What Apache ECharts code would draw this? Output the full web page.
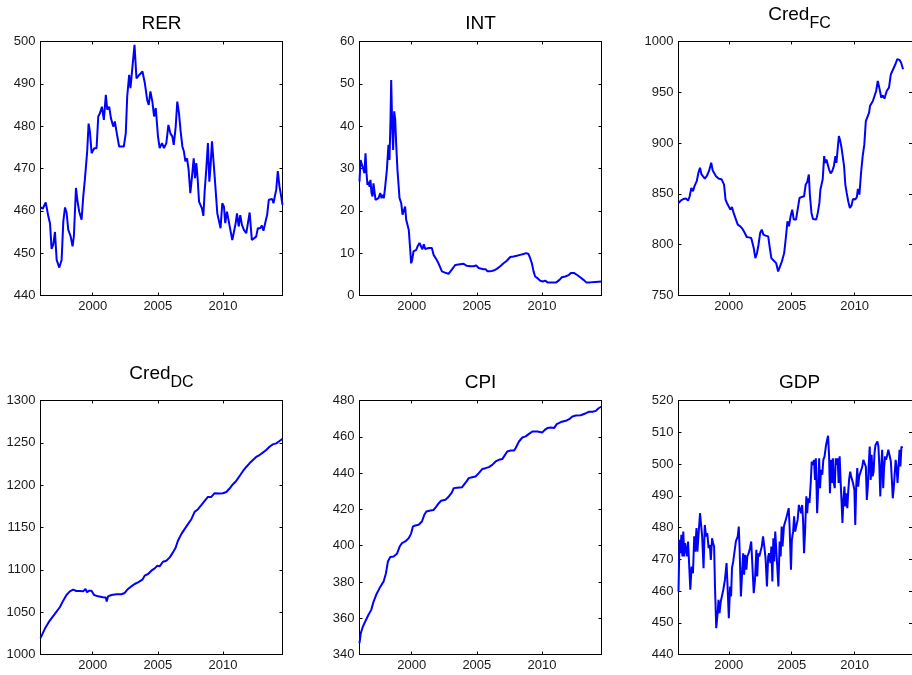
<!DOCTYPE html>
<html>
<head>
<meta charset="utf-8">
<title>RER, INT, Cred, CPI, GDP</title>
<script src="https://cdn.jsdelivr.net/npm/echarts@6/dist/echarts.min.js"></script>
<style>
  html, body { margin: 0; padding: 0; background: #ffffff; }
  #chart { width: 912px; height: 675px; }
</style>
</head>
<body>
<div id="chart"></div>
<script>
// Tick labels shared by every time axis
const xTickYears = [2000, 2005, 2010];

// Each series: [decimal year, value]
const rer = [
  [1996.00,460.8],[1996.17,460.5],[1996.40,462.0],[1996.60,458.7],[1996.73,457.0],[1996.85,451.0],[1996.98,452.0],[1997.11,455.0],[1997.24,448.4],[1997.44,446.6],
  [1997.62,448.4],[1997.75,457.5],[1997.88,460.8],[1998.00,459.6],[1998.13,455.5],[1998.31,454.0],[1998.46,451.6],[1998.56,454.0],[1998.72,465.4],[1998.84,462.2],
  [1998.97,459.8],[1999.15,457.9],[1999.28,463.4],[1999.40,467.3],[1999.58,474.0],[1999.69,480.6],[1999.79,478.7],[1999.92,473.6],[2000.12,474.8],[2000.30,474.8],
  [2000.43,482.3],[2000.55,483.0],[2000.71,484.6],[2000.86,481.5],[2001.01,487.4],[2001.12,483.9],[2001.27,484.6],[2001.40,481.9],[2001.58,479.9],[2001.70,481.1],
  [2001.83,478.7],[2002.03,475.2],[2002.21,475.2],[2002.39,475.2],[2002.54,478.3],[2002.65,487.0],[2002.80,492.1],[2002.90,489.0],[2003.03,493.3],[2003.21,499.2],
  [2003.36,491.3],[2003.57,492.1],[2003.82,492.9],[2004.00,490.2],[2004.18,486.2],[2004.30,485.0],[2004.43,488.2],[2004.58,485.8],[2004.71,482.3],[2004.84,484.3],
  [2005.01,477.6],[2005.14,474.8],[2005.32,476.0],[2005.47,474.8],[2005.65,476.0],[2005.81,480.3],[2005.96,478.3],[2006.11,477.6],[2006.22,475.6],[2006.37,479.9],
  [2006.49,485.8],[2006.62,483.1],[2006.75,478.7],[2006.88,475.2],[2007.00,474.0],[2007.11,471.7],[2007.24,472.4],[2007.36,469.7],[2007.49,464.2],[2007.62,468.1],
  [2007.75,472.4],[2007.85,467.7],[2007.95,471.3],[2008.05,467.7],[2008.16,462.2],[2008.28,461.8],[2008.38,460.6],[2008.49,458.8],[2008.59,464.6],[2008.72,470.1],
  [2008.84,476.0],[2008.95,466.9],[2009.05,470.9],[2009.15,476.4],[2009.28,471.3],[2009.43,465.0],[2009.56,459.4],[2009.69,459.8],[2009.81,455.9],[2009.94,461.8],
  [2010.07,461.0],[2010.17,457.1],[2010.30,459.8],[2010.43,460.2],[2010.56,455.5],[2010.71,453.1],[2010.84,453.5],[2010.97,457.1],[2011.07,459.4],[2011.20,456.3],
  [2011.32,459.0],[2011.45,456.7],[2011.60,455.5],[2011.78,454.7],[2011.91,457.1],[2012.04,459.6],[2012.11,459.4],[2012.21,453.1],[2012.34,453.3],[2012.54,453.9],
  [2012.67,455.9],[2012.85,455.9],[2012.98,456.5],[2013.10,455.3],[2013.26,457.5],[2013.38,459.0],[2013.51,462.6],[2013.61,462.8],[2013.77,462.8],[2013.87,461.8],
  [2013.97,463.4],[2014.08,465.0],[2014.20,469.4],[2014.33,465.7],[2014.46,463.4],[2014.56,461.4]
];

const intRate = [
  [1996.00,26.9],[1996.08,32.0],[1996.15,31.3],[1996.23,31.7],[1996.31,29.7],[1996.38,28.9],[1996.46,33.6],[1996.54,28.9],[1996.61,26.1],[1996.69,26.9],
  [1996.77,25.7],[1996.84,27.3],[1996.92,24.2],[1997.00,23.4],[1997.07,26.5],[1997.15,26.9],[1997.23,22.6],[1997.33,22.6],[1997.46,23.0],[1997.59,24.2],
  [1997.69,23.0],[1997.76,23.8],[1997.87,23.0],[1997.97,25.7],[1998.10,29.7],[1998.22,35.6],[1998.30,32.0],[1998.38,41.9],[1998.43,50.9],[1998.51,39.9],
  [1998.58,34.4],[1998.66,43.5],[1998.74,41.5],[1998.81,36.0],[1998.91,29.7],[1999.07,23.0],[1999.20,21.8],[1999.30,19.1],[1999.40,18.7],[1999.50,21.0],
  [1999.58,17.9],[1999.68,18.3],[1999.78,15.5],[1999.89,10.8],[1999.96,7.6],[2000.04,8.4],[2000.14,10.4],[2000.35,10.8],[2000.47,11.7],[2000.60,12.4],
  [2000.73,12.0],[2000.83,10.9],[2000.93,12.1],[2001.04,11.0],[2001.16,10.6],[2001.32,11.2],[2001.42,10.9],[2001.55,11.2],[2001.68,9.6],[2001.80,9.2],
  [2001.93,8.4],[2002.06,7.6],[2002.19,7.2],[2002.32,5.7],[2002.44,5.3],[2002.65,5.3],[2002.83,5.1],[2002.95,4.9],[2003.08,6.1],[2003.21,6.5],
  [2003.34,7.2],[2003.47,7.4],[2003.72,7.4],[2003.98,7.5],[2004.23,7.0],[2004.49,6.9],[2004.74,6.9],[2004.95,7.1],[2005.13,6.5],[2005.26,6.2],
  [2005.51,6.2],[2005.69,6.2],[2005.82,5.7],[2006.02,5.7],[2006.28,5.9],[2006.53,6.3],[2006.79,6.9],[2007.05,7.6],[2007.30,8.2],[2007.56,9.1],
  [2007.81,9.2],[2008.07,9.4],[2008.32,9.6],[2008.58,9.8],[2008.78,10.0],[2008.96,9.8],[2009.09,8.8],[2009.22,7.6],[2009.35,5.7],[2009.47,4.5],
  [2009.65,4.1],[2009.86,3.5],[2010.06,3.3],[2010.24,3.5],[2010.42,3.1],[2010.75,3.1],[2011.09,3.1],[2011.34,3.7],[2011.52,4.3],[2011.78,4.5],
  [2012.03,4.8],[2012.21,5.3],[2012.47,5.3],[2012.67,4.9],[2012.93,4.3],[2013.18,3.7],[2013.39,3.1],[2013.69,3.1],[2014.08,3.2],[2014.56,3.3]
];

const credFC = [
  [1996.00,841.1],[1996.18,843.4],[1996.38,845.0],[1996.59,845.4],[1996.76,843.4],[1996.89,847.7],[1997.02,855.9],[1997.15,852.6],[1997.27,857.6],[1997.45,862.5],
  [1997.58,870.7],[1997.71,875.7],[1997.83,869.1],[1997.96,868.1],[1998.09,865.1],[1998.24,867.4],[1998.42,872.4],[1998.60,880.6],[1998.72,873.0],[1998.85,874.0],
  [1998.98,867.4],[1999.18,865.1],[1999.44,864.1],[1999.62,859.2],[1999.74,844.4],[1999.87,840.5],[2000.00,841.1],[2000.12,834.5],[2000.25,837.2],[2000.38,831.3],
  [2000.51,829.6],[2000.71,819.7],[2000.91,818.1],[2001.09,815.5],[2001.27,811.5],[2001.42,807.6],[2001.60,807.2],[2001.78,806.6],[2001.98,796.7],[2002.11,786.8],
  [2002.24,791.8],[2002.36,800.0],[2002.49,811.5],[2002.62,814.8],[2002.75,809.9],[2002.92,808.9],[2003.13,808.2],[2003.26,796.7],[2003.38,786.8],[2003.56,784.5],
  [2003.76,781.9],[2003.92,773.7],[2004.02,775.3],[2004.22,783.6],[2004.40,791.8],[2004.53,806.6],[2004.66,823.0],[2004.78,818.1],[2004.91,828.0],[2005.04,834.5],
  [2005.16,824.7],[2005.34,824.7],[2005.47,834.5],[2005.62,846.0],[2005.80,847.0],[2005.98,847.7],[2006.11,859.2],[2006.23,861.5],[2006.36,869.1],[2006.44,849.3],
  [2006.57,831.3],[2006.69,825.3],[2006.82,826.3],[2006.95,824.7],[2007.07,831.3],[2007.20,841.1],[2007.28,854.3],[2007.38,855.3],[2007.46,864.1],[2007.58,887.2],
  [2007.66,880.6],[2007.76,883.9],[2007.84,885.5],[2007.97,874.0],[2008.09,870.1],[2008.22,872.4],[2008.35,877.3],[2008.47,887.2],[2008.55,880.6],[2008.65,893.8],
  [2008.75,906.9],[2008.86,902.0],[2008.96,895.4],[2009.06,897.0],[2009.16,877.3],[2009.26,859.2],[2009.37,851.0],[2009.49,842.8],[2009.62,836.2],[2009.75,838.5],
  [2009.87,845.0],[2010.05,844.4],[2010.18,847.0],[2010.26,854.9],[2010.38,849.3],[2010.51,870.7],[2010.64,887.2],[2010.77,898.7],[2010.89,921.7],[2011.02,923.4],
  [2011.15,929.9],[2011.22,936.5],[2011.35,938.2],[2011.45,941.4],[2011.58,943.1],[2011.71,951.3],[2011.84,961.2],[2011.96,954.6],[2012.12,944.7],[2012.24,947.0],
  [2012.37,943.8],[2012.55,951.3],[2012.73,954.6],[2012.88,967.8],[2013.06,972.7],[2013.24,977.6],[2013.39,982.6],[2013.57,981.9],[2013.69,979.3],[2013.85,972.7]
];

const credDC = [
  [1996.00,1019.3],[1996.33,1030.3],[1996.71,1040.1],[1997.10,1048.0],[1997.48,1055.8],[1997.74,1063.6],[1997.99,1070.3],[1998.25,1074.6],[1998.50,1076.6],[1998.76,1075.0],
  [1999.01,1075.0],[1999.27,1074.6],[1999.45,1077.4],[1999.57,1073.5],[1999.73,1075.4],[1999.91,1075.4],[2000.11,1070.3],[2000.42,1068.7],[2000.80,1067.6],[2001.00,1067.2],
  [2001.08,1062.5],[2001.18,1068.7],[2001.44,1070.3],[2001.82,1071.1],[2002.20,1071.1],[2002.46,1072.7],[2002.71,1077.4],[2002.97,1080.5],[2003.22,1083.3],[2003.48,1085.2],
  [2003.81,1088.4],[2003.99,1093.1],[2004.25,1095.1],[2004.50,1099.0],[2004.76,1101.7],[2004.96,1104.9],[2005.14,1104.1],[2005.39,1109.6],[2005.65,1110.8],[2005.91,1114.7],
  [2006.16,1120.6],[2006.37,1126.5],[2006.54,1134.3],[2006.80,1142.2],[2007.05,1148.1],[2007.31,1154.0],[2007.57,1159.8],[2007.82,1168.5],[2008.08,1171.6],[2008.33,1176.3],
  [2008.59,1181.4],[2008.84,1186.1],[2009.10,1186.1],[2009.35,1190.5],[2009.48,1190.5],[2009.74,1190.1],[2009.99,1190.5],[2010.25,1192.0],[2010.50,1196.0],[2010.76,1201.1],
  [2011.01,1205.0],[2011.27,1210.9],[2011.53,1216.8],[2011.78,1221.5],[2012.03,1225.8],[2012.29,1229.7],[2012.54,1233.3],[2012.80,1235.6],[2013.05,1238.4],[2013.31,1241.5],
  [2013.56,1245.4],[2013.82,1248.2],[2014.08,1249.4],[2014.33,1252.1],[2014.56,1254.8]
];

const cpi = [
  [1996.00,346.3],[1996.10,351.8],[1996.26,355.4],[1996.44,358.2],[1996.69,361.9],[1996.90,364.6],[1997.08,369.2],[1997.28,372.9],[1997.54,376.6],[1997.85,380.2],
  [1998.03,384.8],[1998.18,391.3],[1998.36,393.7],[1998.62,394.0],[1998.87,395.5],[1999.08,399.5],[1999.26,401.4],[1999.51,402.3],[1999.77,404.1],[1999.95,406.5],
  [2000.10,410.6],[2000.28,411.1],[2000.54,411.5],[2000.79,413.3],[2000.97,417.0],[2001.13,418.8],[2001.44,419.4],[2001.69,419.7],[2001.90,421.6],[2002.08,423.4],
  [2002.26,424.7],[2002.59,425.3],[2002.85,427.1],[2003.05,428.9],[2003.23,431.7],[2003.49,431.9],[2003.87,432.2],[2004.00,433.0],[2004.21,435.4],[2004.38,437.2],
  [2004.64,437.7],[2004.90,438.1],[2005.15,440.0],[2005.41,442.2],[2005.67,442.7],[2005.92,443.3],[2006.18,444.5],[2006.44,446.4],[2006.69,447.3],[2006.95,447.7],
  [2007.08,448.2],[2007.33,451.9],[2007.59,452.4],[2007.85,452.4],[2007.97,453.7],[2008.23,457.4],[2008.49,459.6],[2008.74,460.2],[2009.00,461.6],[2009.26,462.9],
  [2009.64,462.9],[2010.03,462.4],[2010.21,463.8],[2010.41,464.8],[2010.67,465.1],[2010.92,464.8],[2011.13,467.0],[2011.44,468.1],[2011.82,468.8],[2012.08,469.7],
  [2012.33,471.2],[2012.59,471.7],[2012.97,471.9],[2013.36,473.0],[2013.62,473.8],[2013.87,473.8],[2014.13,474.3],[2014.31,475.6],[2014.56,476.7]
];

const gdp = [
  [1996.00,459.8],[1996.08,476.1],[1996.15,471.9],[1996.23,477.7],[1996.31,470.9],[1996.38,478.7],[1996.46,470.9],[1996.53,475.1],[1996.61,473.0],[1996.69,470.9],
  [1996.76,475.6],[1996.84,475.1],[1996.94,460.4],[1997.04,467.7],[1997.15,465.6],[1997.25,477.2],[1997.32,472.4],[1997.43,479.8],[1997.50,472.4],[1997.60,478.2],
  [1997.71,484.5],[1997.81,485.0],[1997.88,477.2],[1997.99,467.2],[1998.09,480.8],[1998.19,477.2],[1998.29,478.2],[1998.39,473.5],[1998.49,474.5],[1998.57,469.8],
  [1998.67,476.6],[1998.75,475.1],[1998.83,474.0],[1998.90,461.4],[1999.00,448.3],[1999.11,453.0],[1999.18,457.2],[1999.26,453.0],[1999.36,456.7],[1999.44,457.2],
  [1999.56,460.4],[1999.69,463.5],[1999.82,468.8],[1999.90,461.4],[2000.00,451.4],[2000.10,461.4],[2000.18,458.3],[2000.25,467.2],[2000.35,469.3],[2000.46,469.8],
  [2000.56,475.6],[2000.63,475.1],[2000.71,477.2],[2000.79,480.3],[2000.86,473.0],[2000.96,458.3],[2001.07,466.7],[2001.14,471.9],[2001.22,465.1],[2001.30,471.4],
  [2001.40,466.7],[2001.47,470.9],[2001.58,471.9],[2001.68,473.5],[2001.78,475.6],[2001.86,476.1],[2001.98,459.3],[2002.08,463.5],[2002.19,473.0],[2002.26,464.6],
  [2002.34,471.9],[2002.42,470.9],[2002.52,472.4],[2002.62,474.0],[2002.72,477.2],[2002.82,474.0],[2002.92,470.3],[2003.03,461.4],[2003.13,470.9],[2003.20,471.9],
  [2003.31,468.8],[2003.38,474.0],[2003.46,463.0],[2003.54,476.6],[2003.61,469.3],[2003.69,478.7],[2003.84,478.7],[2003.94,461.4],[2004.04,475.6],[2004.12,470.9],
  [2004.20,480.3],[2004.27,474.0],[2004.38,480.3],[2004.45,481.4],[2004.53,482.4],[2004.66,482.4],[2004.76,486.1],[2004.83,480.3],[2004.94,466.7],[2005.01,476.1],
  [2005.11,478.7],[2005.19,483.5],[2005.27,478.7],[2005.37,478.7],[2005.47,482.4],[2005.57,487.1],[2005.67,487.1],[2005.75,484.5],[2005.83,487.1],[2005.90,482.4],
  [2005.98,471.9],[2006.06,478.7],[2006.16,489.8],[2006.23,484.5],[2006.31,489.2],[2006.41,487.7],[2006.51,494.0],[2006.59,500.8],[2006.67,499.7],[2006.77,501.3],
  [2006.85,495.0],[2006.92,501.8],[2007.02,484.5],[2007.10,491.9],[2007.18,501.8],[2007.25,492.4],[2007.33,498.2],[2007.43,496.6],[2007.51,501.3],[2007.61,502.4],
  [2007.71,505.5],[2007.81,507.6],[2007.89,508.9],[2007.97,502.4],[2008.04,490.8],[2008.12,501.3],[2008.19,494.0],[2008.27,501.8],[2008.35,494.0],[2008.42,492.4],
  [2008.50,501.8],[2008.58,499.7],[2008.65,501.8],[2008.73,494.0],[2008.81,502.4],[2008.88,495.0],[2008.96,488.2],[2009.03,481.4],[2009.11,488.7],[2009.19,492.9],
  [2009.26,486.6],[2009.34,490.8],[2009.42,486.1],[2009.49,491.3],[2009.57,495.5],[2009.65,497.6],[2009.72,496.1],[2009.80,495.0],[2009.87,494.0],[2009.98,491.9],
  [2010.05,480.8],[2010.13,493.4],[2010.21,498.7],[2010.28,492.9],[2010.36,496.1],[2010.43,495.5],[2010.51,496.1],[2010.61,499.2],[2010.69,501.3],[2010.79,500.8],
  [2010.89,499.2],[2010.97,488.7],[2011.05,492.9],[2011.12,499.7],[2011.20,505.5],[2011.28,495.0],[2011.35,502.9],[2011.43,496.1],[2011.51,497.6],[2011.58,503.4],
  [2011.66,506.0],[2011.73,506.6],[2011.81,507.1],[2011.89,505.5],[2011.96,499.7],[2012.04,489.8],[2012.12,499.7],[2012.19,504.5],[2012.27,492.4],[2012.34,498.7],
  [2012.42,502.4],[2012.50,501.3],[2012.57,502.4],[2012.68,504.5],[2012.78,504.0],[2012.88,500.8],[2012.96,495.0],[2013.03,489.2],[2013.11,492.4],[2013.18,491.9],
  [2013.26,501.3],[2013.34,498.7],[2013.41,494.0],[2013.49,493.4],[2013.57,504.5],[2013.64,499.2],[2013.72,505.5],[2013.80,505.0]
];

// Panel titles (main text + optional subscript) and y-axis ranges
const panelTitles = [['RER', ''], ['INT', ''], ['Cred', 'FC'], ['Cred', 'DC'], ['CPI', ''], ['GDP', '']];
const panelSeries = [rer, intRate, credFC, credDC, cpi, gdp];
const yMins  = [440, 0, 750, 1000, 340, 440];
const yMaxs  = [500, 60, 1000, 1300, 480, 520];
const ySteps = [10, 10, 50, 50, 20, 10];
const sampleStart = 1996.0;
const sampleEnd = 2014.56;

// ---- layout (pixels) ----
const FONT = '"Liberation Sans", Arial, Helvetica, sans-serif';
const colLeft = [40.5, 359.5, 678.5];
const rowTop = [41.5, 400.5];
const plotW = 242;
const plotH = 254;

const axisLineStyle = { show: true, onZero: false, lineStyle: { color: '#000', width: 1 } };
const tickBase = { show: true, inside: true, length: 3, lineStyle: { color: '#000', width: 1 } };
const labelBase = { fontSize: 13, color: '#1a1a1a', fontFamily: FONT, formatter: v => String(v) };

const grids = [], xAxes = [], yAxes = [], series = [], graphics = [];

panelSeries.forEach((data, i) => {
  const col = i % 3, row = Math.floor(i / 3);
  const left = colLeft[col], top = rowTop[row];
  grids.push({ left: left, top: top, width: plotW, height: plotH, show: false });

  const xCommon = { type: 'value', gridIndex: i, min: sampleStart, max: sampleEnd, splitLine: { show: false }, axisLine: axisLineStyle };
  xAxes.push(Object.assign({}, xCommon, {
    position: 'bottom',
    axisTick: Object.assign({}, tickBase, { customValues: xTickYears }),
    axisLabel: Object.assign({}, labelBase, { customValues: xTickYears, margin: 4 })
  }));
  xAxes.push(Object.assign({}, xCommon, {
    position: 'top',
    axisTick: Object.assign({}, tickBase, { customValues: xTickYears }),
    axisLabel: { show: false }
  }));

  const yCommon = { type: 'value', gridIndex: i, min: yMins[i], max: yMaxs[i], interval: ySteps[i], splitLine: { show: false }, axisLine: axisLineStyle, axisTick: tickBase };
  yAxes.push(Object.assign({}, yCommon, {
    position: 'left',
    axisLabel: Object.assign({}, labelBase, { margin: 5, showMinLabel: true, showMaxLabel: true })
  }));
  yAxes.push(Object.assign({}, yCommon, { position: 'right', axisLabel: { show: false } }));

  series.push({
    type: 'line',
    name: panelTitles[i].join(''),
    xAxisIndex: 2 * i,
    yAxisIndex: 2 * i,
    data: data,
    showSymbol: false,
    symbol: 'none',
    clip: true,
    lineStyle: { color: '#0000ff', width: 2 },
    emphasis: { disabled: true }
  });

  // Panel title, centred over the plot box
  const [mainText, subText] = panelTitles[i];
  const cx = left + plotW / 2;
  if (subText) {
    graphics.push({
      type: 'text', x: cx, y: top - 36.5, silent: true,
      style: {
        text: '{m|' + mainText + '}{s|' + subText + '}',
        align: 'center', verticalAlign: 'top',
        rich: {
          m: { fontSize: 19, lineHeight: 20, fontFamily: FONT, fill: '#000', verticalAlign: 'top' },
          s: { fontSize: 16, lineHeight: 20, fontFamily: FONT, fill: '#000', verticalAlign: 'top', padding: [11, 0, 0, 0] }
        }
      }
    });
  } else {
    graphics.push({
      type: 'text', x: cx, y: top - 28, silent: true,
      style: { text: mainText, align: 'center', verticalAlign: 'top', fontSize: 19, lineHeight: 20, fontFamily: FONT, fill: '#000' }
    });
  }
});

const chart = echarts.init(document.getElementById('chart'), null, { renderer: 'canvas' });
chart.setOption({
  animation: false,
  backgroundColor: '#ffffff',
  grid: grids,
  xAxis: xAxes,
  yAxis: yAxes,
  series: series,
  graphic: graphics
});
</script>
</body>
</html>
